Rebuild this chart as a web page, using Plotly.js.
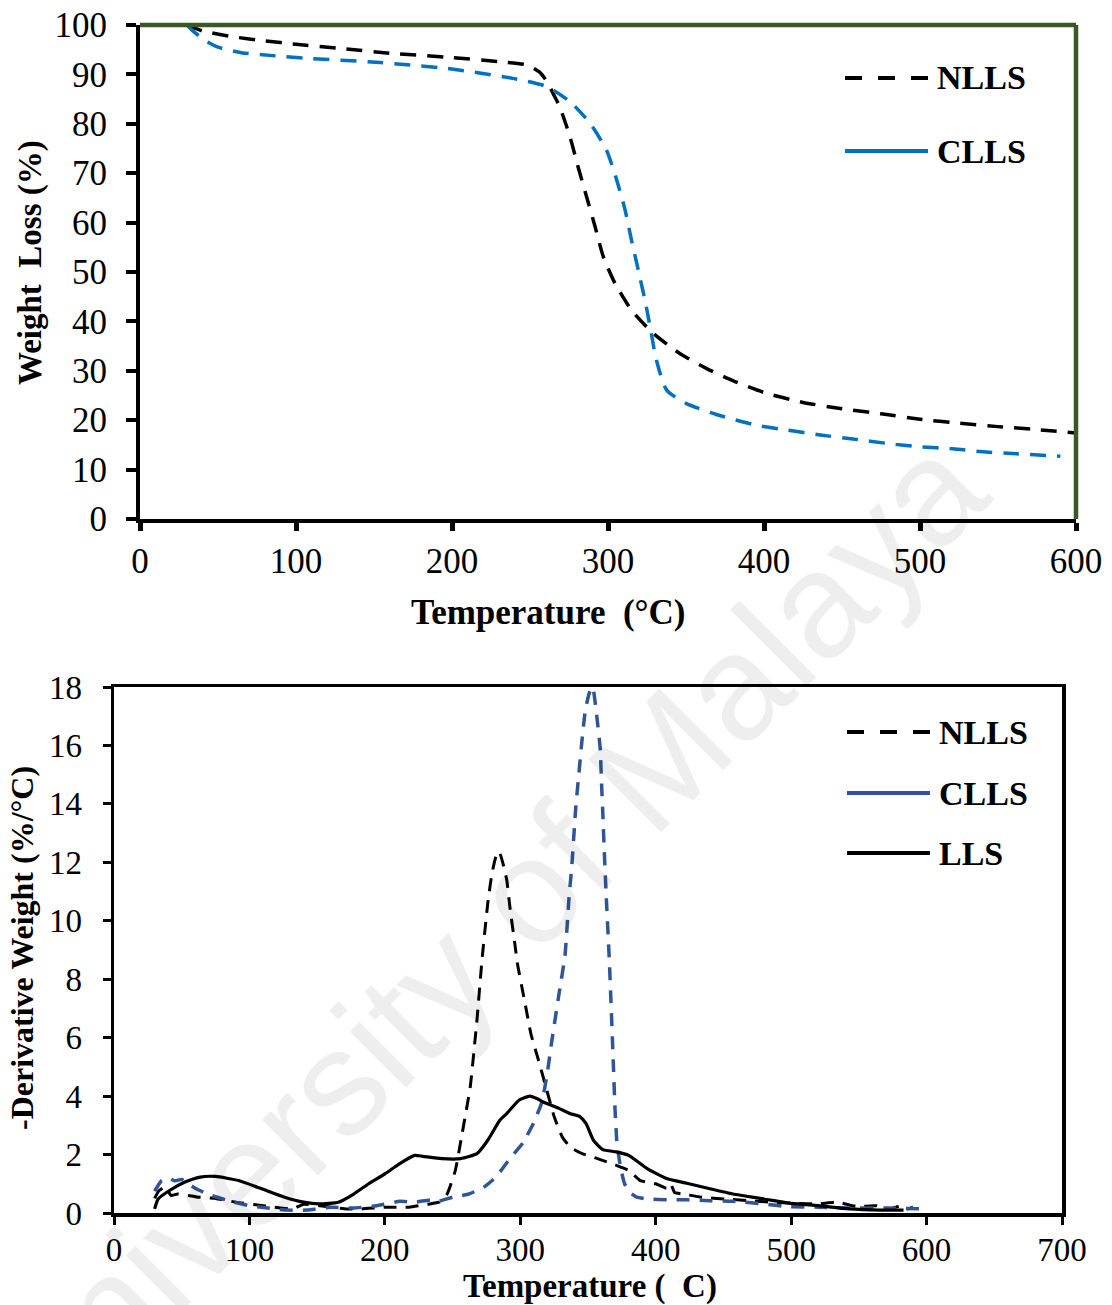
<!DOCTYPE html>
<html><head><meta charset="utf-8">
<script src="https://cdn.plot.ly/plotly-3.0.1.min.js"></script>
<style>html,body{margin:0;padding:0;background:#fff}#chart{width:1112px;height:1305px}</style>
</head><body><div id="chart"></div>
<script>
// ---------- Top chart: TGA weight loss ----------
const tgaTempNLLS = [30,40,60,80,100,130,160,200,230,248,256,261,265,269,275.6,280.8,286.3,291.7,297,304.5,315,329,346,363,380,400,425,450,475,500,525,550,575,600];
const tgaNLLS     = [100,98.8,97.6,96.8,96.1,95.2,94.3,93.4,92.6,91.9,90.5,88.5,86,83.5,77.4,71.3,65.2,59.2,53.1,47.7,42.3,37.6,33.5,30.5,28.0,25.6,23.6,22.3,21.3,20.2,19.4,18.7,18.1,17.4];
const tgaTempCLLS = [30,35,42,50,65,85,110,154,197,239,261,275.6,288.5,299,305.6,311,315,319.4,323.7,327,331,337.6,350,370,395,415,436,457,479,500,521,540,562,590];
const tgaCLLS     = [100,98.5,96.8,95.5,94.4,93.8,93.2,92.4,91.2,89.2,87.5,84.5,80.1,74.7,68.6,62.5,56.5,50.4,44.3,38.9,32.2,26.1,23.4,21.1,19.0,18.0,17.0,16.2,15.3,14.6,14.2,13.6,13.2,12.7];

// ---------- Bottom chart: DTG ----------
const dtgTempNLLS = [30,33,38,42,47,55,61,75,90,110,132,140,152,172,183,200,218,232,240,246,252,257,263,268,271.7,276,279,282,284.4,287,290,292.5,296,298,303,308,313,319,325,331,337,345.7,357,371,380,388.6,400,408,411,414,420,434,451,468.6,486,503,520,534,548.6,563,571,583,586,590];
const dtgNLLS     = [0.5,0.75,0.9,0.6,0.65,0.6,0.55,0.5,0.37,0.25,0.14,0.3,0.25,0.14,0.14,0.2,0.2,0.3,0.37,0.65,1.45,2.7,4.3,6.6,8.65,10.6,11.6,12.2,12.37,12.0,11.4,10.4,9.2,8.5,7.3,6.1,5.3,4.3,3.3,2.6,2.25,2.03,1.86,1.63,1.46,1.11,1.0,0.85,1.0,0.7,0.65,0.54,0.48,0.42,0.37,0.33,0.31,0.37,0.22,0.25,0.14,0.25,0.14,0.2];
const dtgTempCLLS = [30,35,40,45,50,55,60,69,86,100,109,126,143,160,177,194,211,222,234,239,250,262,273,282,293,302,310,316,320,323,328.6,333,336,338,341,343,345.4,348,351,353.5,356.5,359,360,361,362,363.4,365.7,367,368.6,370,371.4,374,377,381,386,394,408.6,423,440,457,480,497,520,543,571,597];
const dtgCLLS     = [0.75,1.1,1.2,1.1,1.15,1.0,0.85,0.65,0.4,0.25,0.2,0.1,0.1,0.2,0.17,0.25,0.4,0.37,0.45,0.4,0.54,0.65,0.88,1.23,1.9,2.4,3.1,3.8,4.8,5.8,7.5,8.8,10.8,11.85,13.9,14.9,16.1,17.2,17.8,18.0,17.0,15.9,14.7,13.6,12.4,10.9,8.7,7.2,5.24,3.5,2.37,1.57,1.0,0.7,0.54,0.48,0.45,0.45,0.42,0.4,0.31,0.22,0.2,0.17,0.17,0.14];
const dtgTempLLS  = [30,32.6,41,52,63.7,75,92,109,126,140,151.6,165.7,177,188,200,211,222,228,242,256,268,276,285,290,299,307,313,317,328.6,337,344,348.6,354,361,371,380,394,408.6,423,440,457,480,500,520,543,566,583];
const dtgLLS      = [0.14,0.48,0.77,1.05,1.23,1.25,1.11,0.83,0.54,0.37,0.31,0.37,0.65,1.0,1.34,1.69,1.97,1.94,1.86,1.86,2.03,2.49,3.18,3.4,3.86,4.0,3.9,3.8,3.58,3.4,3.3,3.06,2.49,2.17,2.09,1.97,1.51,1.17,1.02,0.83,0.65,0.48,0.33,0.25,0.14,0.1,0.1];

const topTicksX = [0,100,200,300,400,500,600];
const topTicksY = [0,10,20,30,40,50,60,70,80,90,100];
const botTicksX = [0,100,200,300,400,500,600,700];
const botTicksY = [0,2,4,6,8,10,12,14,16,18];

const W = 1112, H = 1305;
const px = v => v / W, py = v => 1 - v / H;

const BLACK = '#000000', BLUE1 = '#0070C0', BLUE2 = '#2F5597', GREEN = '#3B5724';
const SERIF = 'Liberation Serif, Times New Roman, serif';

const traces = [
  {x: tgaTempNLLS, y: tgaNLLS, xaxis: 'x', yaxis: 'y', mode: 'lines', name: 'NLLS',
   line: {color: BLACK, width: 3.5, dash: '16px,11px', shape: 'spline', smoothing: 0.6}},
  {x: tgaTempCLLS, y: tgaCLLS, xaxis: 'x', yaxis: 'y', mode: 'lines', name: 'CLLS',
   line: {color: BLUE1, width: 3.5, dash: '16px,11px', shape: 'spline', smoothing: 0.6}},
  {x: dtgTempNLLS, y: dtgNLLS, xaxis: 'x2', yaxis: 'y2', mode: 'lines', name: 'NLLS',
   line: {color: BLACK, width: 3, dash: '13px,9px', shape: 'spline', smoothing: 0.4}},
  {x: dtgTempCLLS, y: dtgCLLS, xaxis: 'x2', yaxis: 'y2', mode: 'lines', name: 'CLLS',
   line: {color: BLUE2, width: 3.5, dash: '13px,10px', shape: 'spline', smoothing: 0.4}},
  {x: dtgTempLLS, y: dtgLLS, xaxis: 'x2', yaxis: 'y2', mode: 'lines', name: 'LLS',
   line: {color: BLACK, width: 3.2, shape: 'spline', smoothing: 0.5}}
];

const axisCommon = {showgrid: false, zeroline: false, showline: true, linecolor: BLACK,
  ticks: 'outside', tickcolor: BLACK, fixedrange: true};

const layout = {
  width: W, height: H, margin: {l: 0, r: 0, t: 0, b: 0},
  paper_bgcolor: '#fff', plot_bgcolor: '#fff', showlegend: false,
  font: {family: SERIF, color: BLACK},
  xaxis: Object.assign({}, axisCommon, {domain: [px(140), px(1076)], range: [0, 600], tickvals: topTicksX,
    linewidth: 4, ticklen: 8, tickwidth: 5, tickfont: {family: SERIF, size: 35}, anchor: 'y'}),
  yaxis: Object.assign({}, axisCommon, {domain: [py(519), py(25)], range: [0, 100], tickvals: topTicksY,
    linewidth: 4, ticklen: 10, tickwidth: 4, ticklabelstandoff: 12, tickfont: {family: SERIF, size: 35}, anchor: 'x'}),
  xaxis2: Object.assign({}, axisCommon, {domain: [px(114), px(1062)], range: [0, 700], tickvals: botTicksX,
    linewidth: 3.5, ticklen: 8, tickwidth: 3, mirror: true, ticklabelstandoff: -3, tickfont: {family: SERIF, size: 33}, anchor: 'y2'}),
  yaxis2: Object.assign({}, axisCommon, {domain: [py(1213), py(687)], range: [0, 18], tickvals: botTicksY,
    linewidth: 3.5, ticklen: 8, tickwidth: 3, mirror: true, ticklabelstandoff: 14, tickfont: {family: SERIF, size: 33}, anchor: 'x2'}),
  shapes: [
    // green top and right border of upper chart
    {type: 'line', xref: 'x domain', yref: 'y domain', x0: 0, x1: 1, y0: 1, y1: 1, line: {color: GREEN, width: 4.5}},
    {type: 'line', xref: 'x domain', yref: 'y domain', x0: 1, x1: 1, y0: 0, y1: 1, line: {color: GREEN, width: 4.5}},
    // legend samples, upper chart
    {type: 'line', xref: 'paper', yref: 'paper', x0: px(845), x1: px(928), y0: py(78), y1: py(78), line: {color: BLACK, width: 4, dash: '17px,16px'}},
    {type: 'line', xref: 'paper', yref: 'paper', x0: px(845), x1: px(928), y0: py(151), y1: py(151), line: {color: BLUE1, width: 4}},
    // legend samples, lower chart
    {type: 'line', xref: 'paper', yref: 'paper', x0: px(847), x1: px(930), y0: py(732), y1: py(732), line: {color: BLACK, width: 4, dash: '17px,16px'}},
    {type: 'line', xref: 'paper', yref: 'paper', x0: px(847), x1: px(930), y0: py(793), y1: py(793), line: {color: BLUE2, width: 4}},
    {type: 'line', xref: 'paper', yref: 'paper', x0: px(847), x1: px(930), y0: py(853), y1: py(853), line: {color: BLACK, width: 4}}
  ],
  annotations: [
    {text: 'University of Malaya', xref: 'paper', yref: 'paper', x: px(480), y: py(940), xanchor: 'center', yanchor: 'middle',
     showarrow: false, textangle: -45, font: {family: 'Liberation Sans, Arial, sans-serif', size: 150, color: 'rgba(0,0,0,0.065)'}},
    // axis titles
    {text: 'Weight  Loss (%)', xref: 'paper', yref: 'paper', x: px(30), y: py(263), xanchor: 'center', yanchor: 'middle',
     showarrow: false, textangle: -90, font: {family: SERIF, size: 33, weight: 'bold'}},
    {text: 'Temperature  (°C)', xref: 'paper', yref: 'paper', x: px(548), y: py(612), xanchor: 'center', yanchor: 'middle',
     showarrow: false, font: {family: SERIF, size: 35, weight: 'bold'}},
    {text: '-Derivative Weight (%/°C)', xref: 'paper', yref: 'paper', x: px(22), y: py(948), xanchor: 'center', yanchor: 'middle',
     showarrow: false, textangle: -90, font: {family: SERIF, size: 32, weight: 'bold'}},
    {text: 'Temperature (  C)', xref: 'paper', yref: 'paper', x: px(590), y: py(1286), xanchor: 'center', yanchor: 'middle',
     showarrow: false, font: {family: SERIF, size: 33, weight: 'bold'}},
    // legend labels
    {text: 'NLLS', xref: 'paper', yref: 'paper', x: px(935), y: py(78), xanchor: 'left', yanchor: 'middle', showarrow: false, font: {family: SERIF, size: 34, weight: 'bold'}},
    {text: 'CLLS', xref: 'paper', yref: 'paper', x: px(935), y: py(151), xanchor: 'left', yanchor: 'middle', showarrow: false, font: {family: SERIF, size: 34, weight: 'bold'}},
    {text: 'NLLS', xref: 'paper', yref: 'paper', x: px(937), y: py(732), xanchor: 'left', yanchor: 'middle', showarrow: false, font: {family: SERIF, size: 34, weight: 'bold'}},
    {text: 'CLLS', xref: 'paper', yref: 'paper', x: px(937), y: py(793), xanchor: 'left', yanchor: 'middle', showarrow: false, font: {family: SERIF, size: 34, weight: 'bold'}},
    {text: 'LLS', xref: 'paper', yref: 'paper', x: px(937), y: py(853), xanchor: 'left', yanchor: 'middle', showarrow: false, font: {family: SERIF, size: 34, weight: 'bold'}}
  ]
};

Plotly.newPlot('chart', traces, layout, {staticPlot: true, displayModeBar: false});
</script>
</body></html>
